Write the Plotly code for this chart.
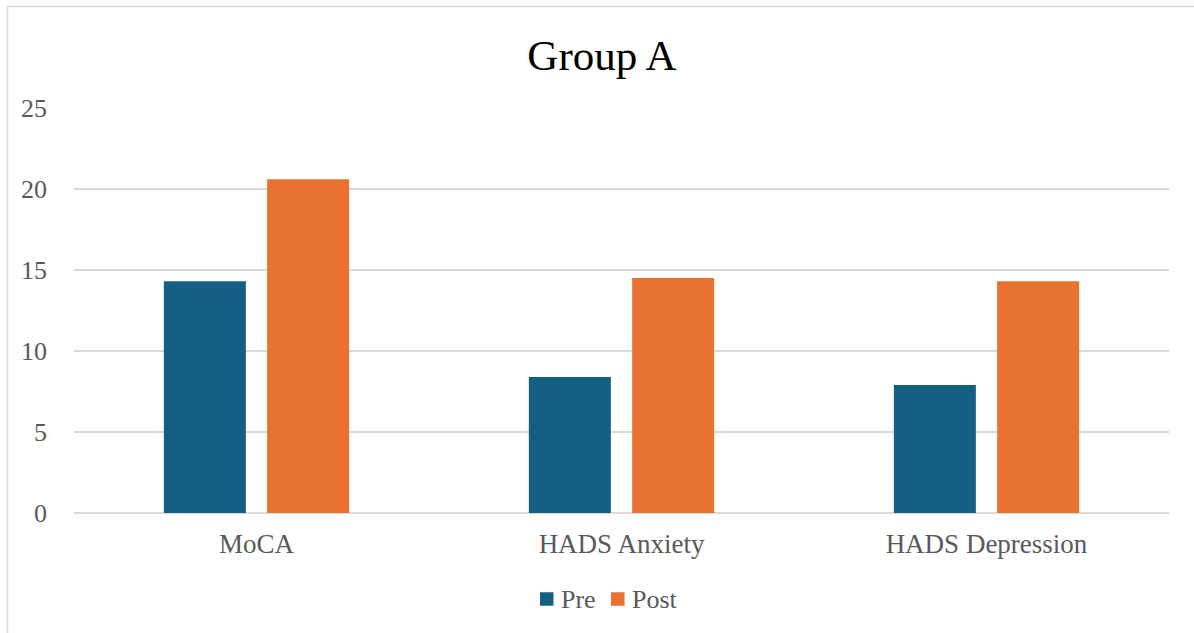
import plotly.graph_objects as go

# Scores by measure, before and after
categories = ["MoCA", "HADS Anxiety", "HADS Depression"]
pre_scores = [14.3, 8.4, 7.9]
post_scores = [20.6, 14.5, 14.3]
y_ticks = [0, 5, 10, 15, 20, 25]

series = [("Pre", pre_scores, "#156082"), ("Post", post_scores, "#E97132")]

W, H = 1194, 633
M_L, M_R, M_T, M_B = 74, 25, 108, 120
plot_w = W - M_L - M_R
plot_h = H - M_T - M_B

FONT = "Liberation Serif"
GRAY = "#595959"
GRID = "#D9D9D9"


def px_x(v):
    return (v - M_L) / plot_w


def px_y(v):
    return 1 - (v - M_T) / plot_h


fig = go.Figure()
for name, vals, color in series:
    fig.add_trace(go.Bar(name=name, x=categories, y=vals, marker_color=color,
                         marker_line_width=0, showlegend=False))

# outer chart frame (left and top edges visible)
fig.add_shape(type="line", xref="paper", yref="paper",
              x0=px_x(7.5), x1=px_x(1200), y0=px_y(6.5), y1=px_y(6.5),
              line=dict(color=GRID, width=1.5))
fig.add_shape(type="line", xref="paper", yref="paper",
              x0=px_x(7.5), x1=px_x(7.5), y0=px_y(6.5), y1=px_y(640),
              line=dict(color=GRID, width=1.5))

# compact legend below the plot: swatch + label per series
legend_x = [540, 611]
legend_y = 599
sw = 13.5
for (name, _, color), lx in zip(series, legend_x):
    fig.add_shape(type="rect", xref="paper", yref="paper",
                  x0=px_x(lx), x1=px_x(lx + sw),
                  y0=px_y(legend_y + sw / 2), y1=px_y(legend_y - sw / 2),
                  fillcolor=color, line_width=0)
    fig.add_annotation(xref="paper", yref="paper", x=px_x(lx + sw + 5), y=px_y(legend_y),
                       text=name, showarrow=False, xanchor="left", yanchor="middle",
                       font=dict(family=FONT, size=26, color=GRAY))

fig.update_layout(
    width=W, height=H,
    margin=dict(l=M_L, r=M_R, t=M_T, b=M_B, pad=0),
    paper_bgcolor="white", plot_bgcolor="white",
    barmode="group", bargap=0.434, bargroupgap=0.206,
    title=dict(text="Group A", x=602 / W, xref="container", xanchor="center",
               y=1 - 55 / H, yref="container", yanchor="middle",
               font=dict(family=FONT, size=43, color="black")),
    font=dict(family=FONT, color=GRAY),
    showlegend=False,
)
fig.update_yaxes(range=[0, 25], tickvals=y_ticks, showgrid=True, gridcolor=GRID,
                 gridwidth=1.5, zeroline=True, zerolinecolor=GRID, zerolinewidth=1.5,
                 showline=False, ticks="", tickfont=dict(family=FONT, size=26, color=GRAY),
                 ticklabelstandoff=26, fixedrange=True)
fig.update_xaxes(showline=False, ticks="", tickfont=dict(family=FONT, size=27, color=GRAY),
                 ticklabelstandoff=12, fixedrange=True)

fig.write_html("out.html", config={"displayModeBar": False})
